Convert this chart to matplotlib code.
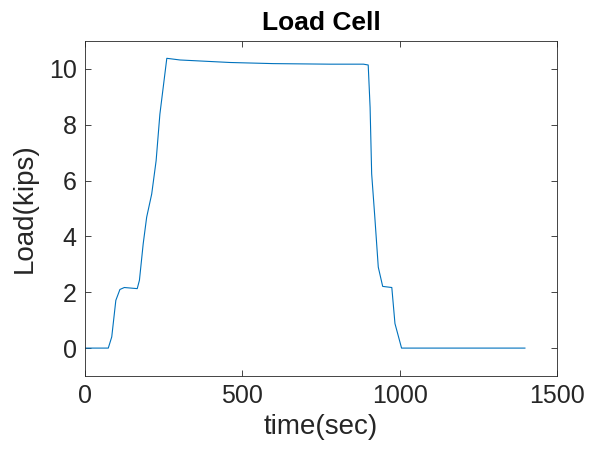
import matplotlib
matplotlib.use('Agg')
import matplotlib.pyplot as plt

# Load cell readings
time_sec = [0, 74, 85, 98, 111, 125, 166, 173, 185, 196, 212, 226, 238, 260,
            302, 461, 598, 778, 885, 900, 906, 911, 921, 932, 946, 975, 985,
            1006, 1398]
load_kips = [0, 0, 0.4, 1.71, 2.1, 2.17, 2.13, 2.43, 3.74, 4.69, 5.52, 6.71,
             8.38, 10.38, 10.32, 10.23, 10.19, 10.17, 10.17, 10.14, 8.62,
             6.24, 4.69, 2.9, 2.21, 2.17, 0.88, 0, 0]

plt.rcParams['font.family'] = ['Liberation Sans', 'DejaVu Sans']

fig = plt.figure(figsize=(5.89, 4.55), dpi=100)
ax = fig.add_axes([0.1443, 0.1736, 0.8014, 0.7363])

ax.plot(time_sec, load_kips, color='#0072BD', linewidth=0.8)

ax.set_xlim(0, 1500)
ax.set_ylim(-1, 11)
ax.set_xticks([0, 500, 1000, 1500])
ax.set_yticks([0, 2, 4, 6, 8, 10])

edge = '#262626'
for s in ax.spines.values():
    s.set_color(edge)
    s.set_linewidth(0.6)
ax.tick_params(direction='in', top=True, right=True, length=4, width=0.6,
               colors=edge, labelsize=18, pad=6)

ax.set_xlabel('time(sec)', fontsize=20, color=edge, labelpad=4)
ax.set_ylabel('Load(kips)', fontsize=20, color=edge, labelpad=8)
ax.set_title('Load Cell', fontsize=19, fontweight='bold', color='black', pad=8)

fig.savefig('out.png', dpi=100)
